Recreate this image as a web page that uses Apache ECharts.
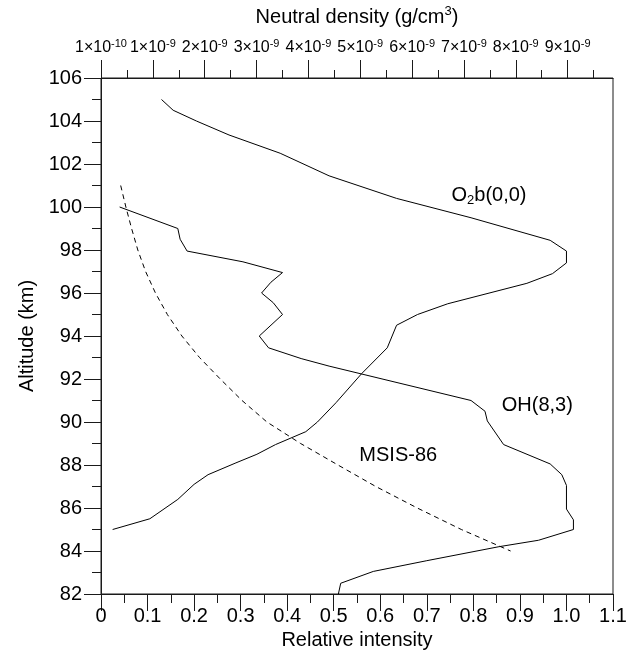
<!DOCTYPE html>
<html>
<head>
<meta charset="utf-8">
<script src="https://cdn.jsdelivr.net/npm/echarts@6/dist/echarts.min.js"></script>
<style>
  html, body { margin: 0; padding: 0; background: #fff; }
  #chart { width: 635px; height: 662px; }
</style>
</head>
<body>
<div id="chart"></div>
<script>
  // O2b(0,0) emission profile: altitude (km) / relative intensity
  const o2Alt = [105.0, 104.5, 104.0, 103.35, 102.5, 101.45, 100.4, 99.5, 98.45, 97.95, 97.4, 96.9, 96.45, 95.5, 95.0,
    94.5, 93.45, 92.25, 90.9, 90.0, 89.55, 88.95, 88.5, 88.1, 87.55, 87.1, 86.4, 85.5, 85.0];
  const o2Int = [0.13, 0.155, 0.205, 0.275, 0.385, 0.49, 0.635, 0.795, 0.965, 1.0, 1.0, 0.97, 0.915, 0.745, 0.68,
    0.635, 0.615, 0.56, 0.505, 0.465, 0.44, 0.375, 0.335, 0.29, 0.23, 0.2, 0.165, 0.105, 0.025];

  // OH(8,3) emission profile
  const ohAlt = [100.0, 99.0, 98.5, 97.95, 97.45, 96.95, 96.5, 96.0, 95.55, 95.0, 94.0, 93.45, 92.95, 92.6, 91.0,
    90.5, 90.05, 88.95, 88.05, 87.55, 87.05, 85.95, 85.45, 85.0, 84.5, 84.2, 83.55, 83.05, 82.5, 82.0];
  const ohInt = [0.04, 0.165, 0.17, 0.185, 0.305, 0.39, 0.365, 0.345, 0.37, 0.39, 0.34, 0.36, 0.43, 0.49, 0.795,
    0.825, 0.83, 0.865, 0.965, 0.99, 1.0, 1.0, 1.015, 1.015, 0.94, 0.855, 0.70, 0.585, 0.515, 0.51];

  // MSIS-86 neutral density, in units of 1e-9 g/cm3 (top axis)
  const msisAlt = [101, 100, 99, 98, 97, 96, 95, 94, 93, 92, 91, 90, 89, 88, 87, 86, 85, 84];
  const msisDen = [0.38, 0.48, 0.59, 0.71, 0.86, 1.05, 1.28, 1.56, 1.90, 2.30, 2.72, 3.2, 3.85, 4.57, 5.30, 6.1, 6.95, 7.9];

  // top axis ticks
  const denTicks = [0, 1, 2, 3, 4, 5, 6, 7, 8, 9];
  const denMinorTicks = [0.5, 1.5, 2.5, 3.5, 4.5, 5.5, 6.5, 7.5, 8.5, 9.5];

  // curve labels (relative intensity / altitude)
  const labelText = ['{n|O}{sub|2}{n|b(0,0)}', '{n|OH(8,3)}', '{n|MSIS-86}'];
  const labelX = [0.753, 0.861, 0.555];
  const labelY = [100.55, 90.77, 88.42];

  const FONT = "'Liberation Sans', Arial, Helvetica, sans-serif";
  const INK = '#000';
  const LINE = { color: '#1a1a1a', width: 1 };

  const zip = (xs, ys) => xs.map((x, i) => [x, ys[i]]);

  const chart = echarts.init(document.getElementById('chart'));

  chart.setOption({
    animation: false,
    textStyle: { fontFamily: FONT, color: INK },
    grid: {
      left: 101,
      right: 22,
      top: 74,
      bottom: 68,
      show: true,
      borderColor: '#1a1a1a',
      borderWidth: 1,
    },
    xAxis: [
      {
        type: 'value',
        position: 'bottom',
        min: 0,
        max: 1.1,
        interval: 0.1,
        name: 'Relative intensity',
        nameLocation: 'middle',
        nameGap: 28,
        nameTextStyle: { fontSize: 20, color: INK, fontFamily: FONT },
        axisLine: { show: true, lineStyle: LINE },
        axisTick: { show: true, length: 17, lineStyle: LINE },
        minorTick: { show: true, splitNumber: 2, length: 9, lineStyle: LINE },
        axisLabel: {
          fontSize: 20,
          color: INK,
          fontFamily: FONT,
          margin: 12,
          formatter: v => (v === 0 ? '0' : v.toFixed(1)),
        },
        splitLine: { show: false },
      },
      {
        type: 'value',
        position: 'top',
        min: 0,
        max: 9.875,
        name: '{n|Neutral density (g/cm}{s|3}{n|)}',
        nameLocation: 'middle',
        nameGap: 49,
        nameTextStyle: {
          rich: {
            n: { fontSize: 20, lineHeight: 24, color: INK, fontFamily: FONT },
            s: { fontSize: 13, lineHeight: 12, verticalAlign: 'top', color: INK, fontFamily: FONT },
          },
        },
        axisLine: { show: true, lineStyle: LINE },
        axisTick: { show: true, length: 18, lineStyle: LINE, customValues: denTicks },
        axisLabel: {
          margin: 20,
          fontSize: 16,
          color: INK,
          fontFamily: FONT,
          customValues: denTicks,
          formatter: v => (v === 0 ? '{b|1×10}{s|-10}' : `{b|${v}×10}{s|-9}`),
          rich: {
            b: { fontSize: 16, lineHeight: 20, color: INK, fontFamily: FONT },
            s: { fontSize: 11, lineHeight: 10, verticalAlign: 'top', color: INK, fontFamily: FONT },
          },
        },
        splitLine: { show: false },
      },
      {
        // minor ticks of the density axis
        type: 'value',
        position: 'top',
        min: 0,
        max: 9.875,
        axisLine: { show: false },
        axisTick: { show: true, length: 8, lineStyle: LINE, customValues: denMinorTicks },
        axisLabel: { show: false },
        splitLine: { show: false },
      },
    ],
    yAxis: {
      type: 'value',
      min: 82,
      max: 106,
      interval: 2,
      name: 'Altitude (km)',
      nameLocation: 'middle',
      nameGap: 64,
      nameTextStyle: { fontSize: 20, color: INK, fontFamily: FONT },
      axisLine: { show: true, lineStyle: LINE },
      axisTick: { show: true, length: 17, lineStyle: LINE },
      minorTick: { show: true, splitNumber: 2, length: 9, lineStyle: LINE },
      axisLabel: { fontSize: 20, color: INK, fontFamily: FONT, margin: 19 },
      splitLine: { show: false },
    },
    series: [
      {
        name: 'O2b(0,0)',
        type: 'line',
        xAxisIndex: 0,
        data: zip(o2Int, o2Alt),
        symbol: 'none',
        lineStyle: { color: INK, width: 1 },
      },
      {
        name: 'OH(8,3)',
        type: 'line',
        xAxisIndex: 0,
        data: zip(ohInt, ohAlt),
        symbol: 'none',
        lineStyle: { color: INK, width: 1 },
      },
      {
        name: 'MSIS-86',
        type: 'line',
        xAxisIndex: 1,
        data: zip(msisDen, msisAlt),
        symbol: 'none',
        lineStyle: { color: INK, width: 1, type: [5, 4] },
      },
      {
        name: 'labels',
        type: 'scatter',
        xAxisIndex: 0,
        symbolSize: 0,
        silent: true,
        itemStyle: { color: INK, opacity: 1 },
        data: labelText.map((t, i) => ({ name: t, value: [labelX[i], labelY[i]] })),
        label: {
          show: true,
          position: 'right',
          distance: 0,
          color: INK,
          opacity: 1,
          fontSize: 20,
          fontFamily: FONT,
          textBorderWidth: 0,
          formatter: p => p.name,
          rich: {
            n: { fontSize: 20, lineHeight: 24, color: INK, fontFamily: FONT },
            sub: { fontSize: 13, lineHeight: 12, verticalAlign: 'bottom', color: INK, fontFamily: FONT },
          },
        },
      },
    ],
  });
</script>
</body>
</html>
